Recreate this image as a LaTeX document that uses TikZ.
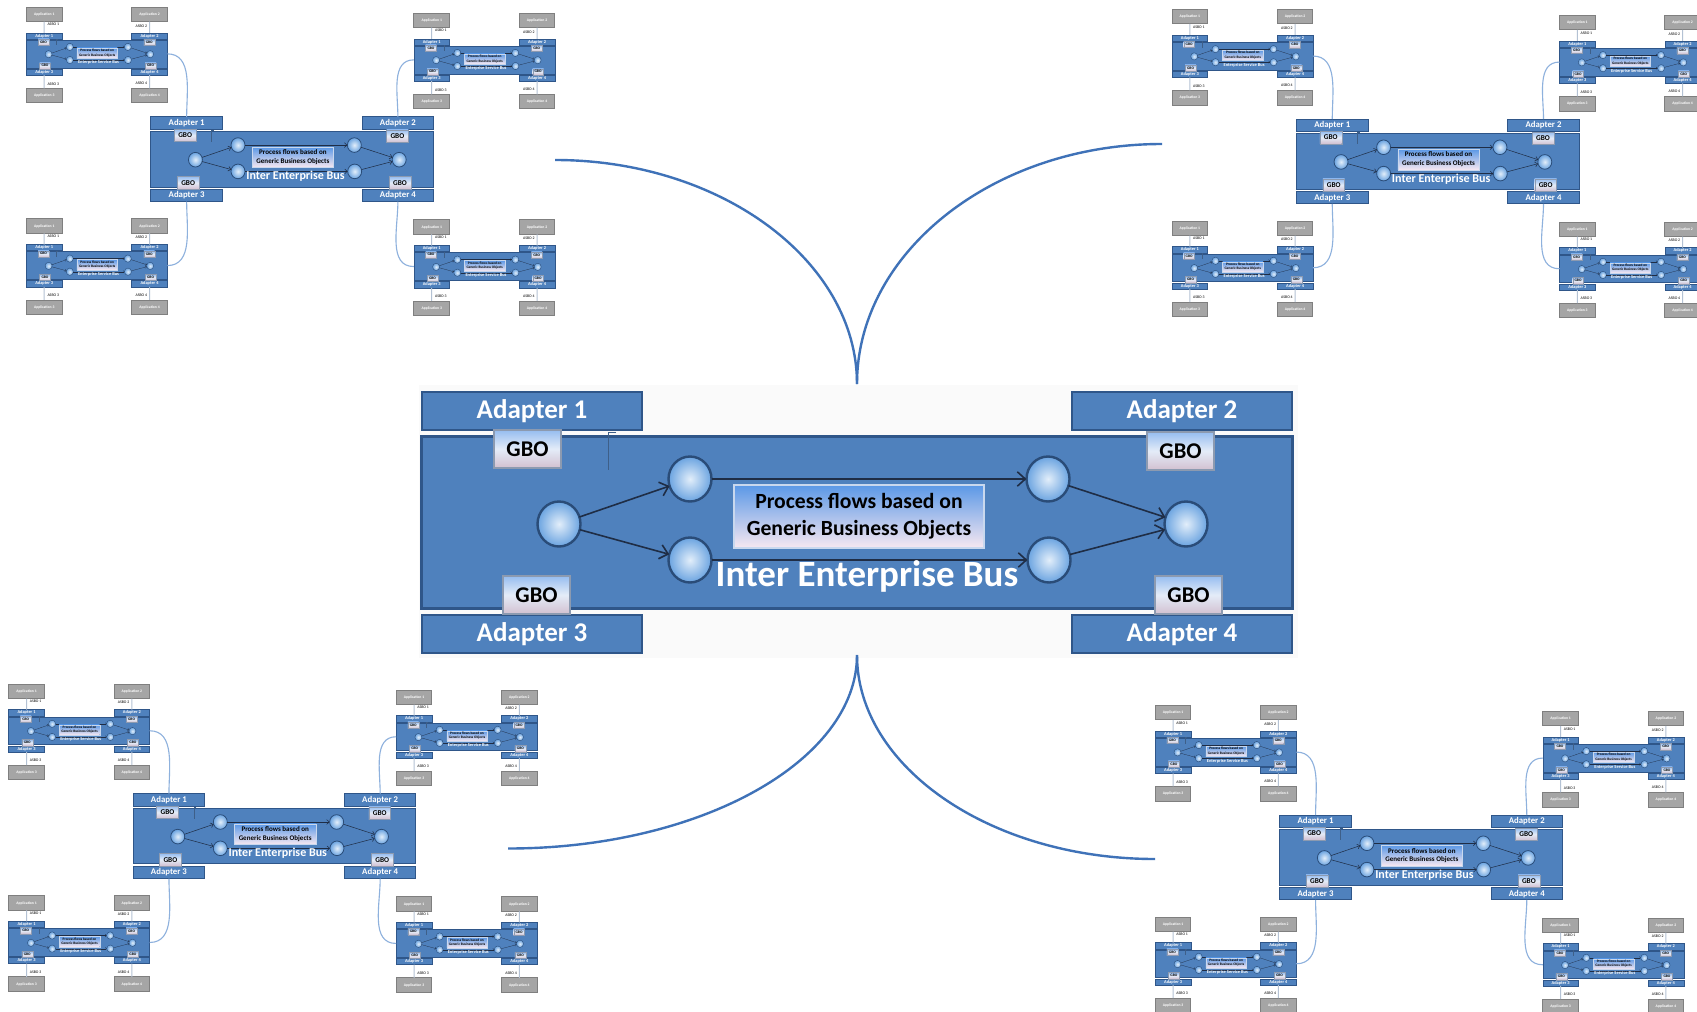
\documentclass[tikz,border=0pt]{standalone}
\usepackage{fontspec}
\setmainfont{Carlito}
\usetikzlibrary{shapes.geometric,arrows.meta}

\definecolor{busfill}{HTML}{4F81BD}
\definecolor{busedge}{HTML}{2F5689}
\definecolor{gbotop}{HTML}{96BDF0}
\definecolor{gbomid}{HTML}{E4ECF8}
\definecolor{gbobot}{HTML}{D2C0D0}
\definecolor{gboedge}{HTML}{8C9AB0}
\definecolor{pftop}{HTML}{5B98E6}
\definecolor{pfbot}{HTML}{F7E8F1}
\definecolor{pfedge}{HTML}{C9D8EE}
\definecolor{dotin}{HTML}{E2EEFA}
\definecolor{dotout}{HTML}{6AA3E0}
\definecolor{dotedge}{HTML}{2A4C78}
\definecolor{flowline}{HTML}{1F2D45}
\definecolor{appfill}{HTML}{A5A5A5}
\definecolor{appedge}{HTML}{7F7F7F}
\definecolor{wireline}{HTML}{B4C2D4}
\definecolor{linkline}{HTML}{8EB1DD}
\definecolor{bigline}{HTML}{3F72B8}
\definecolor{stubline}{HTML}{3E5F88}

% current drawing scale, used to keep line widths proportional
\def\bsc{1}

\tikzset{
  x=0.25mm, y=-0.25mm,
  busbody/.style={rectangle, inner sep=0pt, outer sep=0pt, fill=busfill, draw=busedge,
    line width=\bsc*0.75mm, minimum width=217.5mm, minimum height=43mm},
  adapterbox/.style={rectangle, inner sep=0pt, outer sep=0pt, fill=busfill, draw=busedge,
    line width=\bsc*0.7mm, minimum width=55mm, minimum height=9.5mm, text=white,
    font=\bfseries\fontsize{19.2}{22}\selectfont},
  gbobox/.style={rectangle, inner sep=0pt, outer sep=0pt, top color=gbotop, bottom color=gbobot,
    middle color=gbomid, draw=gboedge, line width=\bsc*0.3mm,
    minimum width=16.75mm, minimum height=9.5mm, text=black,
    font=\bfseries\fontsize{16}{18}\selectfont},
  dot/.style={ellipse, inner sep=0pt, outer sep=0pt, minimum width=10.75mm, minimum height=11.25mm,
    draw=dotedge, line width=\bsc*0.6mm, inner color=dotin, outer color=dotout},
  pfbox/.style={rectangle, inner sep=0pt, outer sep=0pt, top color=pftop, bottom color=pfbot,
    draw=pfedge, line width=\bsc*0.3mm, minimum width=62.5mm, minimum height=15.75mm,
    align=center, text=black, font=\bfseries\fontsize{15.4}{19}\selectfont},
  buslabel/.style={inner sep=0pt, text=white},
  flow/.style={draw=flowline, line width=\bsc*0.4mm,
    -{Straight Barb[length=0pt 5, width=0pt 9]}},
  stub/.style={draw=stubline, line width=\bsc*0.2mm},
  appbox/.style={rectangle, inner sep=0pt, outer sep=0pt, fill=appfill, draw=appedge,
    line width=\bsc*1.5mm, minimum width=55mm, minimum height=22.5mm, text=white,
    font=\bfseries\fontsize{16.4}{18}\selectfont},
  asbo/.style={inner sep=0pt, text=black, font=\fontsize{17}{19}\selectfont},
  appwire/.style={draw=wireline, line width=\bsc*1.5mm},
  link/.style={draw=linkline, line width=0.28mm},
  bigwire/.style={draw=bigline, line width=0.6mm},
  panel/.style={fill=black!2},
}

% one bus: four adapters, GBO tags, process flow and the bus name
\newcommand\buscore[2]{%
  \node[busbody] (-body) at (435,130) {};
  \node[adapterbox] (-a1) at (110,19) {Adapter 1};
  \node[adapterbox] (-a2) at (760,19) {Adapter 2};
  \node[adapterbox] (-a3) at (110,242) {Adapter 3};
  \node[adapterbox] (-a4) at (760,242) {Adapter 4};
  \draw[stub] (194,40) -- (186,40) -- (186,78);
  \node[gbobox] (-g1) at (105.5,57) {GBO};
  \node[gbobox] (-g2) at (758.5,59) {GBO};
  \node[gbobox] (-g3) at (114.5,203) {GBO};
  \node[gbobox] (-g4) at (766.5,203) {GBO};
  \node[dot] (-d1) at (137,132) {};
  \node[dot] (-d2) at (268,87) {};
  \node[dot] (-d3) at (268,168) {};
  \node[dot] (-d4) at (626,87) {};
  \node[dot] (-d5) at (627,168) {};
  \node[dot] (-d6) at (764,132) {};
  \draw[flow] (-d1) -- (-d2);
  \draw[flow] (-d1) -- (-d3);
  \draw[flow] (-d2) -- (-d4);
  \draw[flow] (-d3) -- (-d5);
  \draw[flow] (-d4) -- (-d6);
  \draw[flow] (-d5) -- (-d6);
  \node[pfbox] (-pf) at (437,124.5) {Process flows based on\\Generic Business Objects};
  \node[buslabel, font=\bfseries\fontsize{#2}{#2}\selectfont] (-lbl) at (445,184) {#1};
}

\tikzset{
  ieb/.pic={\buscore{Inter Enterprise Bus}{26.3}},
  esb/.pic={%
    \buscore{Enterprise Service Bus}{19.6}
    \node[appbox] (-p1) at (110,-113.5) {Application 1};
    \node[appbox] (-p2) at (760,-113.5) {Application 2};
    \node[appbox] (-p3) at (110,387.5) {Application 3};
    \node[appbox] (-p4) at (760,387.5) {Application 4};
    \draw[appwire] (-p1) -- (-a1);
    \draw[appwire] (-p2) -- (-a2);
    \draw[appwire] (-p3) -- (-a3);
    \draw[appwire] (-p4) -- (-a4);
    \node[asbo, anchor=west] (-s1) at (130,-50) {ASBO 1};
    \node[asbo, anchor=east] (-s2) at (745,-43) {ASBO 2};
    \node[asbo, anchor=west] (-s3) at (130,315) {ASBO 3};
    \node[asbo, anchor=east] (-s4) at (745,312) {ASBO 4};
  },
}

% an inter enterprise bus with its four enterprise service buses
\newcommand\cluster[3]{%
  \begin{scope}[shift={(#2,#3)}]
    \begin{scope}[scale=0.325, transform shape]\def\bsc{0.325}
      \pic (#1m) at (0,0) {ieb};
    \end{scope}
    \begin{scope}[shift={(-124.5,-84)}, scale=0.162, transform shape]\def\bsc{0.162}
      \pic (#1u1) at (0,0) {esb};
    \end{scope}
    \begin{scope}[shift={(263,-78)}, scale=0.162, transform shape]\def\bsc{0.162}
      \pic (#1u2) at (0,0) {esb};
    \end{scope}
    \begin{scope}[shift={(-124.5,127.7)}, scale=0.162, transform shape]\def\bsc{0.162}
      \pic (#1u3) at (0,0) {esb};
    \end{scope}
    \begin{scope}[shift={(263,128.7)}, scale=0.162, transform shape]\def\bsc{0.162}
      \pic (#1u4) at (0,0) {esb};
    \end{scope}
    \draw[link] (#1m-a1.north) to[out=90, in=0] (#1u1-body.east);
    \draw[link] (#1m-a2.north) to[out=90, in=180] (#1u2-body.west);
    \draw[link] (#1m-a3.south) to[out=-90, in=0] (#1u3-body.east);
    \draw[link] (#1m-a4.south) to[out=-90, in=180] (#1u4-body.west);
  \end{scope}
}

\begin{document}
\begin{tikzpicture}
  \clip (0,0) rectangle (1697,1011);
  \fill[white] (0,0) rectangle (1697,1011);

  % central bus
  \fill[panel] (419,385) rectangle (1298,658);
  \begin{scope}[shift={(422,392)}]
    \pic (hub) at (0,0) {ieb};
    \coordinate (hubtop) at (435,-8);
    \coordinate (hubbot) at (435,263);
  \end{scope}

  % the four federated buses
  \cluster{c1}{150.9}{116.8}
  \cluster{c2}{1296.5}{119}
  \cluster{c3}{133.2}{793.7}
  \cluster{c4}{1279.8}{815}

  \coordinate (c1end) at (555,160);
  \coordinate (c2end) at (1162,144);
  \coordinate (c3end) at (508,848.5);
  \coordinate (c4end) at (1155,859);

  \draw[bigwire] (hubtop) .. controls +(0,-123) and +(166,0) .. (c1end);
  \draw[bigwire] (hubtop) .. controls +(0,-132) and +(-168,0) .. (c2end);
  \draw[bigwire] (hubbot) .. controls +(0,106) and +(192,0) .. (c3end);
  \draw[bigwire] (hubbot) .. controls +(0,112) and +(-164,0) .. (c4end);
\end{tikzpicture}
\end{document}
